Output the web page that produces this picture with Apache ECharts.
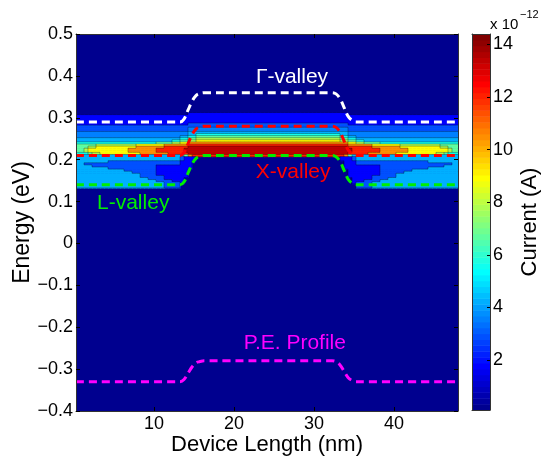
<!DOCTYPE html>
<html>
<head>
<meta charset="utf-8">
<script src="https://cdn.jsdelivr.net/npm/echarts@6/dist/echarts.min.js"></script>
<style>
html, body { margin: 0; padding: 0; background: #fff; }
#chart { width: 546px; height: 459px; }
</style>
</head>
<body>
<div id="chart"></div>
<script>
// device positions (nm) of the sampled columns of the current map
var columnX = [0.5, 1, 1.5, 2, 2.5, 3, 3.5, 4, 4.5, 5, 5.5, 6, 6.5, 7, 7.5, 8, 8.5, 9, 9.5, 10,
    10.5, 11, 11.5, 12, 12.5, 13, 13.5, 14, 14.5, 15, 15.5, 16, 16.5, 17, 17.5, 18, 18.5, 19,
    19.5, 20, 20.5, 21, 21.5, 22, 22.5, 23, 23.5, 24, 24.5, 25, 25.5, 26, 26.5, 27, 27.5, 28,
    28.5, 29, 29.5, 30, 30.5, 31, 31.5, 32, 32.5, 33, 33.5, 34, 34.5, 35, 35.5, 36, 36.5, 37,
    37.5, 38, 38.5, 39, 39.5, 40, 40.5, 41, 41.5, 42, 42.5, 43, 43.5, 44, 44.5, 45, 45.5, 46,
    46.5, 47, 47.5, 48];

// energies (eV) of the sampled rows
var energyRows = [0.315, 0.31, 0.305, 0.3, 0.295, 0.29, 0.285, 0.28, 0.275, 0.27, 0.265,
    0.26, 0.255, 0.25, 0.245, 0.24, 0.235, 0.23, 0.225, 0.22, 0.215, 0.21, 0.205, 0.2,
    0.195, 0.19, 0.185, 0.18, 0.175, 0.17, 0.165, 0.16, 0.155, 0.15, 0.145, 0.14, 0.135];

// current of each contour band (x 1e-12 A), band index 0..b
var levelValues = [0.1, 1.8, 2.9, 3.6, 4.3, 5.6, 6.7, 7.8, 9.0, 10.5, 12.0, 13.5];

// contour band per row, run-length coded "band*count" along columnX
var currentRows = [
    '0*96',
    '0*28 1*40 0*28',
    '1*96',
    '1*96',
    '1*96',
    '1*96',
    '1*28 2*40 1*28',
    '2*96',
    '2*28 3*40 2*28',
    '2*28 3*40 2*28',
    '3*28 4*40 3*28',
    '3*28 4*2 5*36 4*2 3*28',
    '3*26 4*2 5*2 6*36 5*2 4*2 3*26',
    '4*26 5*2 6*2 7*36 6*2 5*2 4*26',
    '4*24 5*2 6*2 7*2 8*36 7*2 6*2 5*2 4*24',
    '5*20 6*4 7*2 8*2 9*40 8*2 7*2 6*4 5*20',
    '6*5 7*10 8*7 9*6 a*40 9*6 8*7 7*10 6*5',
    '6*3 7*2 8*10 9*7 a*6 b*40 a*6 9*7 8*10 7*2 6*3',
    '6*2 7*1 8*10 9*7 a*7 b*42 a*7 9*7 8*10 7*1 6*2',
    '6*2 7*1 8*10 9*7 a*7 b*42 a*7 9*7 8*10 7*1 6*2',
    '5*3 6*1 7*2 8*10 9*7 a*5 b*40 a*5 9*7 8*10 7*2 6*1 5*3',
    '4*27 6*1 9*1 a*38 9*1 6*1 4*27',
    '4*26 2*1 1*3 0*36 1*3 2*1 4*26',
    '4*26 2*1 1*3 0*36 1*3 2*1 4*26',
    '4*8 2*18 1*3 0*38 1*3 2*18 4*8',
    '4*2 2*24 1*3 0*38 1*3 2*24 4*2',
    '4*4 2*16 1*9 0*38 1*9 2*16 4*4',
    '4*8 2*12 1*9 0*38 1*9 2*12 4*8',
    '4*12 2*8 1*8 0*40 1*8 2*8 4*12',
    '4*14 2*6 1*8 0*40 1*8 2*6 4*14',
    '4*16 2*4 1*8 0*40 1*8 2*4 4*16',
    '4*16 2*6 1*6 0*40 1*6 2*6 4*16',
    '4*18 2*4 1*5 0*42 1*5 2*4 4*18',
    '4*20 2*4 1*3 0*42 1*3 2*4 4*20',
    '4*22 2*4 1*1 0*42 1*1 2*4 4*22',
    '4*22 2*4 0*44 2*4 4*22',
    '4*22 2*4 0*44 2*4 4*22'
];
var cellWidth = 0.5, cellHeight = 0.005;

// band edge profiles (eV) along the device
var bandX = [0.25, 13.25, 13.75, 14.25, 14.75, 15.25, 15.75, 16.25,
    32.25, 32.75, 33.25, 33.75, 34.25, 34.75, 35.25, 48];
var gammaValley = [0.29, 0.29, 0.297, 0.318, 0.339, 0.353, 0.358, 0.36,
    0.36, 0.357, 0.346, 0.325, 0.304, 0.294, 0.29, 0.29];
var xValley = [0.21, 0.21, 0.217, 0.238, 0.259, 0.273, 0.278, 0.28,
    0.28, 0.277, 0.266, 0.245, 0.224, 0.214, 0.21, 0.21];
var lValley = [0.14, 0.14, 0.147, 0.168, 0.189, 0.203, 0.208, 0.21,
    0.21, 0.207, 0.196, 0.175, 0.154, 0.144, 0.14, 0.14];
var peProfile = [-0.33, -0.33, -0.325, -0.31, -0.295, -0.285, -0.282, -0.28,
    -0.28, -0.282, -0.29, -0.305, -0.32, -0.327, -0.33, -0.33];

var labelNames = ['Γ-valley', 'X-valley', 'L-valley', 'P.E. Profile'];
var labelX = [27.25, 27.4, 7.4, 27.6];
var labelE = [0.397, 0.171, 0.097, -0.237];

var xTicks = [10, 20, 30, 40];
var cbarTicks = [2, 4, 6, 8, 10, 12, 14];
var cMin = 0.1, cMax = 14.4;

var FONT = '"Liberation Sans", Arial, Helvetica, sans-serif';

// MATLAB jet(n)
function jetMap(n) {
    var q = Math.ceil(n / 4);
    var u = [], i;
    for (i = 1; i <= q; i++) u.push(i / q);
    for (i = 1; i < q; i++) u.push(1);
    for (i = q; i >= 1; i--) u.push(i / q);
    var g0 = Math.ceil(q / 2) - (n % 4 === 1 ? 1 : 0);
    var map = [];
    for (i = 0; i < n; i++) map.push([0, 0, 0]);
    for (var j = 0; j < u.length; j++) {
        var g = g0 + j + 1, r = g + q, b = g - q;
        if (r >= 1 && r <= n) map[r - 1][0] = u[j];
        if (g >= 1 && g <= n) map[g - 1][1] = u[j];
        if (b >= 1 && b <= n) map[b - 1][2] = u[j];
    }
    return map.map(function (c) {
        return 'rgb(' + c.map(function (v) { return Math.round(v * 255); }).join(',') + ')';
    });
}
var jet = jetMap(64);

function colorOf(v) {
    var k = Math.floor((v - cMin) / (cMax - cMin) * 64);
    return jet[Math.max(0, Math.min(63, k))];
}

// decode the run-length rows into a band-index grid
var bandGrid = currentRows.map(function (row) {
    var out = [];
    row.split(' ').forEach(function (run) {
        var p = run.split('*');
        for (var k = 0; k < +p[1]; k++) out.push(parseInt(p[0], 16));
    });
    return out.slice(0, columnX.length);
});

var cells = [], edges = [];
bandGrid.forEach(function (row, r) {
    var e = energyRows[r];
    row.forEach(function (b, c) {
        var x = columnX[c];
        if (b > 0) cells.push([x, e, levelValues[b]]);
        // contour boundaries between neighbouring bands
        if (c > 0 && row[c - 1] !== b) {
            edges.push([x - cellWidth / 2, e - cellHeight / 2, x - cellWidth / 2, e + cellHeight / 2]);
        }
        var up = r > 0 ? bandGrid[r - 1][c] : 0;
        if (up !== b) {
            edges.push([x - cellWidth / 2, e + cellHeight / 2, x + cellWidth / 2, e + cellHeight / 2]);
        }
        if (r === bandGrid.length - 1 && b > 0) {
            edges.push([x - cellWidth / 2, e - cellHeight / 2, x + cellWidth / 2, e - cellHeight / 2]);
        }
    });
});

var cbarSteps = [];
for (var s = 0; s < 64; s++) cbarSteps.push([0.5, s]);

function zip(xs, ys) {
    return xs.map(function (x, i) { return [x, ys[i]]; });
}

function dashed(data, color) {
    return {
        type: 'line', data: data, xAxisIndex: 0, yAxisIndex: 0,
        showSymbol: false, smooth: 0.4, silent: true, z: 3,
        lineStyle: { color: color, width: 3, type: [8, 5] }
    };
}

function fmtEnergy(v) {
    if (Math.abs(v) < 1e-9) return '0';
    return v.toFixed(1).replace('-', '\u2212');
}

var axisCommon = {
    axisLine: { show: true, onZero: false, lineStyle: { color: '#333', width: 1 } },
    splitLine: { show: false },
    nameMoveOverlap: false,
    z: 10
};

var labelColors = ['#ffffff', '#ff0000', '#00ee00', '#ff00ff'];

var option = {
    animation: false,
    grid: [
        { left: 76, top: 34, width: 382, height: 377, show: true, backgroundColor: '#00008f', borderWidth: 0, containLabel: false, outerBoundsMode: 'none' },
        { left: 472, top: 34, width: 18, height: 376, show: false, containLabel: false, outerBoundsMode: 'none' }
    ],
    xAxis: [
        Object.assign({}, axisCommon, {
            gridIndex: 0, type: 'value', position: 'bottom', min: 0.25, max: 48,
            axisTick: { inside: true, length: 4, customValues: xTicks, lineStyle: { color: '#000' } },
            axisLabel: { customValues: xTicks, fontSize: 18, color: '#000', fontFamily: FONT, margin: 4 },
            name: 'Device Length (nm)', nameLocation: 'middle', nameGap: 23,
            nameTextStyle: { fontSize: 22, color: '#000', fontFamily: FONT }
        }),
        Object.assign({}, axisCommon, {
            gridIndex: 0, type: 'value', position: 'top', min: 0.25, max: 48,
            axisTick: { inside: true, length: 4, customValues: xTicks, lineStyle: { color: '#000' } },
            axisLabel: { show: false }
        }),
        Object.assign({}, axisCommon, {
            gridIndex: 1, type: 'value', position: 'bottom', min: 0, max: 1,
            axisTick: { show: false }, axisLabel: { show: false }
        }),
        Object.assign({}, axisCommon, {
            gridIndex: 1, type: 'value', position: 'top', min: 0, max: 1,
            axisTick: { show: false }, axisLabel: { show: false }
        })
    ],
    yAxis: [
        Object.assign({}, axisCommon, {
            gridIndex: 0, type: 'value', position: 'left', min: -0.4, max: 0.5, interval: 0.1,
            axisTick: { inside: true, length: 4, lineStyle: { color: '#000' } },
            axisLabel: { fontSize: 18, color: '#000', fontFamily: FONT, margin: 3, formatter: fmtEnergy },
            name: 'Energy (eV)', nameLocation: 'middle', nameGap: 42, nameRotate: 90,
            nameTextStyle: { fontSize: 23, color: '#000', fontFamily: FONT }
        }),
        Object.assign({}, axisCommon, {
            gridIndex: 0, type: 'value', position: 'right', min: -0.4, max: 0.5, interval: 0.1,
            axisTick: { inside: true, length: 4, lineStyle: { color: '#000' } },
            axisLabel: { show: false }
        }),
        Object.assign({}, axisCommon, {
            gridIndex: 1, type: 'value', position: 'right', min: cMin, max: cMax,
            axisTick: { inside: true, length: 3, customValues: cbarTicks, lineStyle: { color: '#000' } },
            axisLabel: { customValues: cbarTicks, fontSize: 18, color: '#000', fontFamily: FONT, margin: 3 },
            name: 'Current (A)', nameLocation: 'middle', nameGap: 29, nameRotate: 90,
            nameTextStyle: { fontSize: 22, color: '#000', fontFamily: FONT }
        }),
        Object.assign({}, axisCommon, {
            gridIndex: 1, type: 'value', position: 'left', min: cMin, max: cMax,
            axisTick: { show: false }, axisLabel: { show: false }
        })
    ],
    series: [
        {
            type: 'custom', xAxisIndex: 0, yAxisIndex: 0, data: cells, clip: true, silent: true, z: 1,
            renderItem: function (params, api) {
                var p = api.coord([api.value(0) - cellWidth / 2, api.value(1) + cellHeight / 2]);
                var sz = api.size([cellWidth, cellHeight]);
                return {
                    type: 'rect',
                    shape: { x: p[0], y: p[1], width: sz[0] + 0.6, height: sz[1] + 0.6 },
                    style: { fill: colorOf(api.value(2)) }
                };
            }
        },
        {
            type: 'custom', xAxisIndex: 0, yAxisIndex: 0, data: edges, clip: true, silent: true, z: 2,
            renderItem: function (params, api) {
                var a = api.coord([api.value(0), api.value(1)]);
                var b = api.coord([api.value(2), api.value(3)]);
                return {
                    type: 'line',
                    shape: { x1: a[0], y1: a[1], x2: b[0], y2: b[1] },
                    style: { stroke: 'rgba(0,0,0,0.45)', lineWidth: 0.7 }
                };
            }
        },
        dashed(zip(bandX, gammaValley), '#ffffff'),
        dashed(zip(bandX, xValley), '#ff0000'),
        dashed(zip(bandX, lValley), '#00ee00'),
        dashed(zip(bandX, peProfile), '#ff00ff'),
        {
            type: 'scatter', xAxisIndex: 0, yAxisIndex: 0, symbolSize: 0, silent: true, z: 4,
            itemStyle: { opacity: 1 },
            data: labelNames.map(function (n, i) {
                return {
                    name: n, value: [labelX[i], labelE[i]],
                    label: { color: labelColors[i] }
                };
            }),
            label: {
                show: true, position: 'inside', fontSize: 21, fontFamily: FONT, opacity: 1,
                textBorderWidth: 0, textBorderColor: 'transparent',
                formatter: function (p) { return p.name; }
            }
        },
        {
            type: 'custom', xAxisIndex: 2, yAxisIndex: 2, data: cbarSteps, silent: true, z: 1,
            renderItem: function (params, api) {
                var step = (cMax - cMin) / 64;
                var k = api.value(1);
                var p = api.coord([0, cMin + (k + 1) * step]);
                var sz = api.size([1, step]);
                return {
                    type: 'rect',
                    shape: { x: p[0], y: p[1], width: sz[0], height: sz[1] + 0.5 },
                    style: { fill: jet[k] }
                };
            }
        }
    ],
    graphic: [
        { type: 'text', left: 490, top: 17, style: { text: 'x 10', fontSize: 15, fontFamily: FONT, fill: '#000' } },
        { type: 'text', left: 520, top: 9, style: { text: '\u221212', fontSize: 11, fontFamily: FONT, fill: '#000' } }
    ]
};

var chart = echarts.init(document.getElementById('chart'));
chart.setOption(option);
</script>
</body>
</html>
